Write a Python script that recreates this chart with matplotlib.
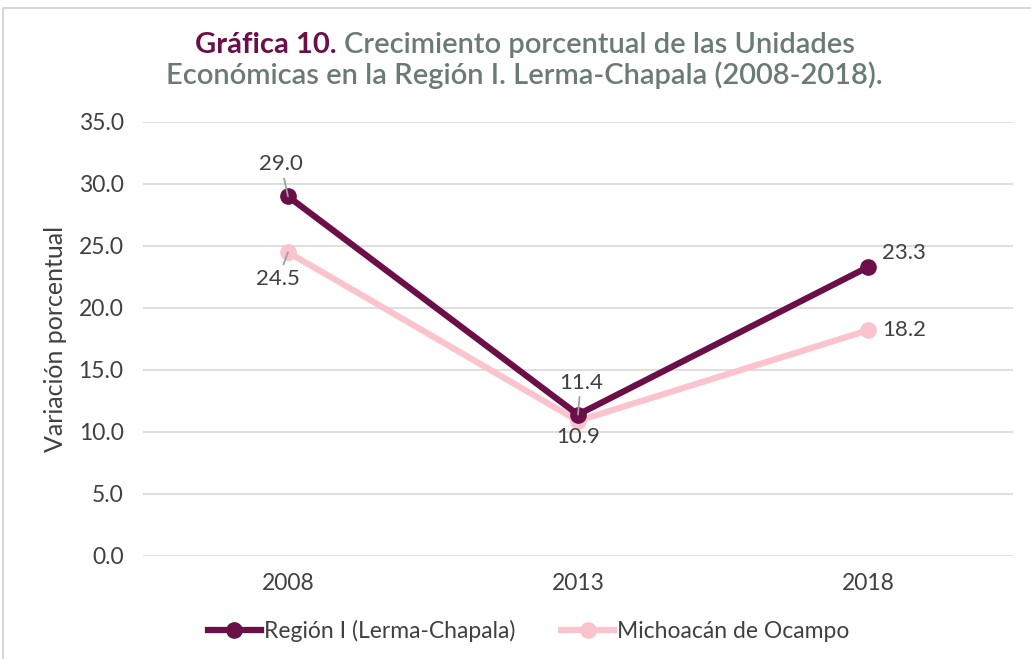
import matplotlib
matplotlib.use("Agg")
import matplotlib.pyplot as plt
from matplotlib.patches import Rectangle

years = ["2008", "2013", "2018"]
region = [29.0, 11.4, 23.3]
michoacan = [24.5, 10.9, 18.2]
yticks = [0, 5, 10, 15, 20, 25, 30, 35]
series_names = ["Región I (Lerma-Chapala)", "Michoacán de Ocampo"]

plt.rcParams['font.family'] = ['Lato', 'DejaVu Sans']
dark = "#6B0F48"
pink = "#FBC3CD"
txt = "#404040"

fig = plt.figure(figsize=(10.31, 6.59), dpi=100)
fig.patches.append(Rectangle((0.003, -0.01), 1.2, 0.998, transform=fig.transFigure,
                             fill=False, edgecolor="#D0D0D0", linewidth=1.2))
ax = fig.add_axes([0.1387, 0.1563, 0.8438, 0.6586])
x = list(range(len(years)))
ax.plot(x, michoacan, color=pink, lw=4.5, marker="o", ms=11, label=series_names[1], zorder=3)
ax.plot(x, region, color=dark, lw=4.5, marker="o", ms=11, label=series_names[0], zorder=4)

ax.set_xlim(-0.5, 2.5)
ax.set_ylim(0, 35)
ax.set_yticks(yticks)
ax.set_yticklabels([f"{v:.1f}" for v in yticks])
ax.set_xticks(x)
ax.set_xticklabels(years)
ax.grid(axis="y", color="#D9D9D9", lw=1.2)
ax.set_axisbelow(True)
for s in ax.spines.values():
    s.set_visible(False)
ax.tick_params(length=0, labelsize=16.5, labelcolor=txt)
ax.tick_params(axis="x", pad=12)
ax.tick_params(axis="y", pad=14)
ax.set_ylabel("Variación porcentual", fontsize=18, color=txt, labelpad=8)

# data labels with leader lines (offsets in points)
def lab(xi, yi, text, dx, dy, leader=True):
    ax.annotate(text, (xi, yi), xytext=(dx, dy), textcoords="offset points",
                ha="center", va="center", fontsize=16, color=txt,
                arrowprops=dict(arrowstyle="-", color="#A0A0A0", lw=1.3,
                                shrinkA=1, shrinkB=0) if leader else None,
                zorder=6)

lab(0, region[0], f"{region[0]:.1f}", -5, 23)
lab(0, michoacan[0], f"{michoacan[0]:.1f}", -7, -19)
lab(1, region[1], f"{region[1]:.1f}", 2, 23)
lab(1, michoacan[1], f"{michoacan[1]:.1f}", 0, -12, leader=False)
lab(2, region[2], f"{region[2]:.1f}", 26, 10, leader=False)
lab(2, michoacan[2], f"{michoacan[2]:.1f}", 26, 0, leader=False)

handles, labels = ax.get_legend_handles_labels()
leg = fig.legend(handles[::-1], labels[::-1], loc="center", bbox_to_anchor=(0.513, 0.042),
                 ncol=2, frameon=False, fontsize=16.5, handlelength=2.3, columnspacing=2.0,
                 handletextpad=0.15)
for t in leg.get_texts():
    t.set_color(txt)

# title
title_color = "#6A7A77"
fs = 21
t1 = fig.text(0.185, 0.932, "Gráfica 10.", fontsize=fs, fontweight="bold", color=dark,
              ha="left", va="center")
t2 = fig.text(0.3, 0.932, "Crecimiento porcentual de las Unidades", fontsize=fs,
              fontweight="semibold", color=title_color, ha="left", va="center")
fig.canvas.draw()
w1 = t1.get_window_extent().width / fig.bbox.width
w2 = t2.get_window_extent().width / fig.bbox.width
gap = 0.007
start = 0.509 - (w1 + gap + w2) / 2
t1.set_x(start)
t2.set_x(start + w1 + gap)
fig.text(0.509, 0.886, "Económicas en la Región I. Lerma-Chapala (2008-2018).", fontsize=fs,
         fontweight="semibold", color=title_color, ha="center", va="center")

fig.savefig("out.png", dpi=100)
